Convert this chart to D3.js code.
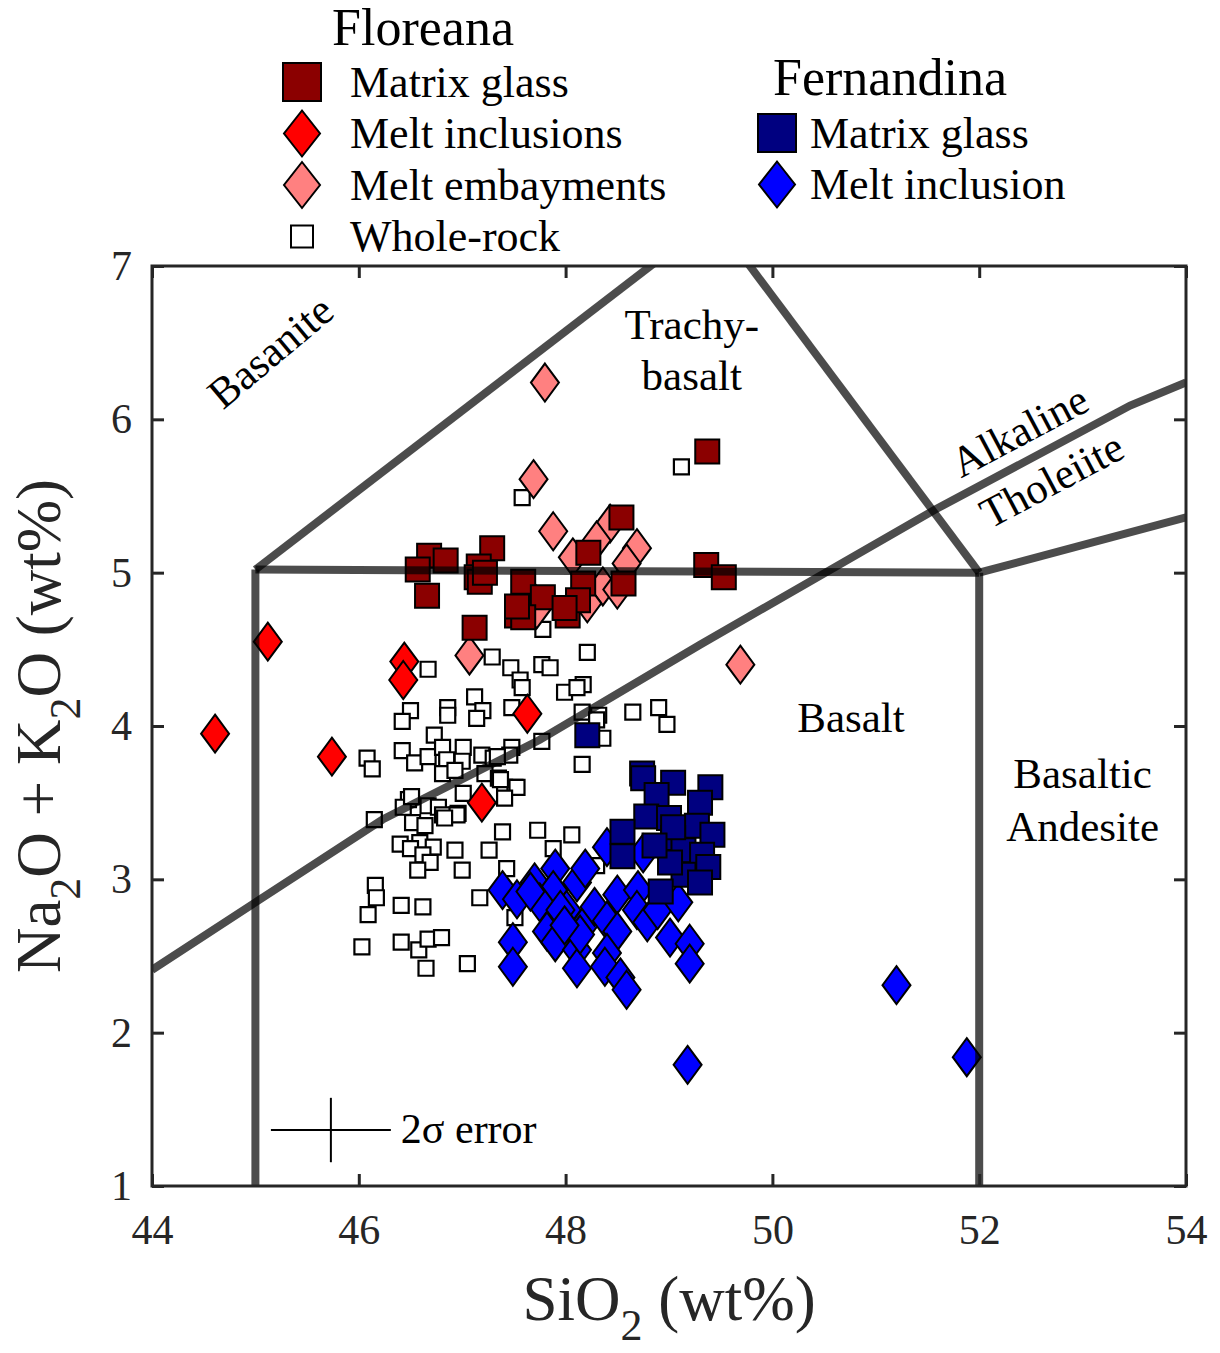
<!DOCTYPE html>
<html>
<head>
<meta charset="utf-8">
<script src="https://cdn.jsdelivr.net/npm/d3@7"></script>
<style>
  body { margin: 0; background: #fff; }
  text { font-family: "Liberation Serif", "Times New Roman", serif; }
</style>
</head>
<body>
<div id="vis"></div>
<script>
// values: [SiO2, Na2O+K2O] in wt%
const floreanaMatrix = [
    [46.68, 5.11], [46.84, 5.08], [47.29, 5.16], [46.57, 5.02], [46.66, 4.85],
    [47.16, 5.04], [47.14, 4.97], [47.17, 4.94], [47.22, 5.00], [47.59, 4.94],
    [47.78, 4.84], [47.53, 4.72], [47.59, 4.71], [47.12, 4.64], [47.53, 4.78],
    [48.02, 4.72], [48.22, 5.13], [48.17, 4.93], [48.54, 5.36], [48.56, 4.93],
    [49.37, 5.79], [49.36, 5.05], [49.53, 4.97], [48.12, 4.82], [47.99, 4.77]
];
const floreanaInclusions = [
    [44.61, 3.95], [45.12, 4.55], [45.74, 3.80], [46.44, 4.42], [46.43, 4.30],
    [47.63, 4.08], [47.19, 3.50]
];
const floreanaEmbayments = [
    [47.80, 6.24], [47.69, 5.61], [47.88, 5.27], [48.43, 5.32], [48.30, 5.21],
    [48.69, 5.16], [48.07, 5.10], [48.59, 5.06], [48.36, 4.91], [48.50, 4.89],
    [48.21, 4.80], [47.63, 4.87], [47.72, 4.76], [47.07, 4.46], [49.69, 4.40]
];
const wholeRock = [
    [47.58, 5.49], [49.12, 5.69], [47.78, 4.63], [48.21, 4.48], [47.29, 4.45],
    [46.67, 4.37], [47.47, 4.38], [47.56, 4.30], [47.58, 4.25], [47.77, 4.40],
    [47.85, 4.38], [47.99, 4.22], [48.17, 4.27], [48.11, 4.25], [47.12, 4.19],
    [47.20, 4.10], [47.14, 4.05], [46.86, 4.12], [46.86, 4.07], [46.50, 4.10],
    [46.42, 4.03], [47.48, 4.12], [46.08, 3.79], [46.13, 3.72], [46.42, 3.84],
    [46.54, 3.76], [46.67, 3.80], [46.73, 3.94], [46.81, 3.86], [46.85, 3.78],
    [47.01, 3.86], [47.00, 3.77], [46.81, 3.69], [46.93, 3.71], [47.19, 3.81],
    [47.30, 3.79], [47.22, 3.69], [47.35, 3.66], [47.41, 3.60], [47.51, 3.60],
    [47.48, 3.86], [47.46, 3.81], [47.01, 3.56], [46.48, 3.52], [46.43, 3.47],
    [46.67, 3.48], [46.77, 3.47], [46.96, 3.43], [46.15, 3.39], [46.51, 3.54],
    [46.81, 3.42], [46.52, 3.37], [46.64, 3.35], [46.40, 3.23], [46.59, 3.24],
    [46.72, 3.21], [46.50, 3.20], [46.62, 3.16], [46.69, 3.11], [46.57, 3.06],
    [46.93, 3.19], [47.26, 3.19], [47.00, 3.06], [47.17, 2.88], [46.16, 2.96],
    [46.17, 2.88], [46.09, 2.77], [46.41, 2.83], [46.62, 2.82], [46.03, 2.56],
    [46.41, 2.59], [46.58, 2.54], [46.67, 2.61], [46.80, 2.62], [46.65, 2.42],
    [47.05, 2.45], [47.43, 3.07], [47.51, 2.75], [47.39, 3.31], [47.73, 3.32],
    [48.16, 4.09], [48.32, 4.07], [48.30, 4.04], [48.65, 4.09], [48.90, 4.12],
    [48.98, 4.01], [47.77, 3.90], [48.36, 3.92], [48.16, 3.75], [47.34, 3.80],
    [47.37, 3.65], [47.53, 3.60], [47.41, 3.53], [46.95, 3.42], [46.83, 3.40],
    [48.06, 3.29], [47.88, 3.20], [48.30, 3.09]
];
const fernandinaMatrix = [
    [48.21, 3.94], [48.74, 3.69], [48.75, 3.66], [49.04, 3.63], [49.40, 3.60],
    [48.88, 3.55], [49.30, 3.50], [48.78, 3.41], [49.00, 3.40], [49.27, 3.35],
    [49.42, 3.29], [48.55, 3.31], [49.04, 3.27], [48.55, 3.15], [49.14, 3.19],
    [49.32, 3.16], [49.38, 3.08], [49.14, 3.03], [49.01, 3.11], [49.30, 2.98],
    [48.92, 2.92], [49.04, 3.34], [48.86, 3.22]
];
const fernandinaInclusions = [
    [51.20, 2.31], [51.88, 1.84], [49.18, 1.79], [47.39, 2.93], [47.53, 2.87],
    [47.49, 2.59], [47.49, 2.43], [47.70, 2.98], [47.90, 3.07], [47.88, 2.93],
    [47.75, 2.85], [47.82, 2.66], [47.90, 2.59], [48.01, 2.80], [48.11, 2.98],
    [48.19, 3.07], [48.21, 2.73], [48.11, 2.54], [48.11, 2.42], [48.28, 2.82],
    [48.40, 2.73], [48.50, 2.90], [48.50, 2.66], [48.40, 2.52], [48.38, 2.43],
    [48.53, 2.36], [48.59, 2.28], [48.70, 2.93], [48.69, 2.80], [48.79, 2.72],
    [48.89, 2.80], [49.01, 2.62], [49.09, 2.85], [49.20, 2.58], [49.20, 2.45],
    [48.40, 3.21], [48.75, 3.17], [47.95, 2.80], [47.66, 2.92], [48.14, 2.64],
    [47.99, 2.70]
];

// TAS field boundaries
const tasLines = [
    [[45, 1], [45, 5.02]],
    [[45, 5.02], [52, 5.0]],
    [[45, 5.02], [49.4, 7.3]],
    [[52, 5.0], [49.45, 7.3]],
    [[52, 1], [52, 5.0]],
    [[52, 5.0], [57, 5.9]]
];
const alkThLine = [[44, 2.41], [46.23, 3.39], [47.75, 3.91], [49.3, 4.53], [51.57, 5.41], [53.46, 6.09], [54, 6.24]];

const xTicks = [44, 46, 48, 50, 52, 54];
const yTicks = [1, 2, 3, 4, 5, 6, 7];

const fieldLabels = [
    {text: 'Basanite', x: 45.17, y: 6.42, rot: -40},
    {text: 'Trachy-', x: 49.22, y: 6.59, rot: 0},
    {text: 'basalt', x: 49.22, y: 6.26, rot: 0},
    {text: 'Alkaline', x: 52.41, y: 5.90, rot: -28},
    {text: 'Tholeiite', x: 52.72, y: 5.58, rot: -28},
    {text: 'Basalt', x: 50.76, y: 4.03, rot: 0},
    {text: 'Basaltic', x: 53.0, y: 3.66, rot: 0},
    {text: 'Andesite', x: 53.0, y: 3.32, rot: 0}
];

// 2 sigma error bar: centre, half widths
const errCentre = [45.73, 1.365];
const errHalf = [0.58, 0.21];

const colors = {
    floMatrix: '#8b0000',
    floIncl: '#ff0000',
    floEmb: '#ff8080',
    whole: '#ffffff',
    ferMatrix: '#000080',
    ferIncl: '#0000ff'
};

let dimensions = {
    width: 1220,
    height: 1353,
    margin: { top: 266, right: 34, bottom: 167, left: 152 }
};
dimensions.boundedWidth = dimensions.width - dimensions.margin.left - dimensions.margin.right;
dimensions.boundedHeight = dimensions.height - dimensions.margin.top - dimensions.margin.bottom;

const wrapper = d3.select('#vis')
    .append('svg')
    .attr('width', dimensions.width)
    .attr('height', dimensions.height);

const bounds = wrapper.append('g')
    .attr('transform', `translate(${dimensions.margin.left},${dimensions.margin.top})`);

const xScale = d3.scaleLinear().domain([44, 54]).range([0, dimensions.boundedWidth]);
const yScale = d3.scaleLinear().domain([1, 7]).range([dimensions.boundedHeight, 0]);

bounds.append('clipPath').attr('id', 'plotclip')
    .append('rect')
    .attr('width', dimensions.boundedWidth)
    .attr('height', dimensions.boundedHeight);

// marker shapes
const squarePath = s => `M${-s / 2},${-s / 2}h${s}v${s}h${-s}Z`;
const diamondPath = (w, h) => `M0,${-h / 2}L${w / 2},0L0,${h / 2}L${-w / 2},0Z`;

function drawMarkers(data, path, fill, strokeW) {
    bounds.append('g')
        .selectAll('path')
        .data(data)
        .join('path')
        .attr('transform', d => `translate(${xScale(d[0])},${yScale(d[1])})`)
        .attr('d', path)
        .attr('fill', fill)
        .attr('stroke', '#000')
        .attr('stroke-width', strokeW);
}

drawMarkers(wholeRock, squarePath(15), colors.whole, 2.2);
drawMarkers(fernandinaInclusions, diamondPath(28, 38), colors.ferIncl, 2);
drawMarkers(fernandinaMatrix, squarePath(24), colors.ferMatrix, 2);
drawMarkers(floreanaEmbayments, diamondPath(28, 38), colors.floEmb, 2);
drawMarkers(floreanaInclusions, diamondPath(28, 38), colors.floIncl, 2);
drawMarkers(floreanaMatrix, squarePath(24), colors.floMatrix, 2);

// field boundaries on top, semi transparent
const lineGen = d3.line().x(d => xScale(d[0])).y(d => yScale(d[1]));
const fieldGroup = bounds.append('g').attr('clip-path', 'url(#plotclip)');
fieldGroup.selectAll('path.tas')
    .data(tasLines.concat([alkThLine]))
    .join('path')
    .attr('class', 'tas')
    .attr('d', lineGen)
    .attr('fill', 'none')
    .attr('stroke', '#000')
    .attr('stroke-opacity', 0.7)
    .attr('stroke-width', 8)
    .attr('stroke-linejoin', 'miter');

// field names
bounds.append('g')
    .selectAll('text')
    .data(fieldLabels)
    .join('text')
    .attr('transform', d => `translate(${xScale(d.x)},${yScale(d.y)}) rotate(${d.rot})`)
    .attr('text-anchor', 'middle')
    .attr('dy', '0.24em')
    .attr('font-size', 43)
    .attr('fill', '#000')
    .text(d => d.text);

// 2 sigma error cross
const err = bounds.append('g').attr('stroke', '#000').attr('stroke-width', 2);
err.append('line')
    .attr('x1', xScale(errCentre[0] - errHalf[0])).attr('x2', xScale(errCentre[0] + errHalf[0]))
    .attr('y1', yScale(errCentre[1])).attr('y2', yScale(errCentre[1]));
err.append('line')
    .attr('x1', xScale(errCentre[0])).attr('x2', xScale(errCentre[0]))
    .attr('y1', yScale(errCentre[1] - errHalf[1])).attr('y2', yScale(errCentre[1] + errHalf[1]));
bounds.append('text')
    .attr('x', xScale(errCentre[0] + errHalf[0]) + 10)
    .attr('y', yScale(errCentre[1]))
    .attr('dy', '0.3em')
    .attr('font-size', 42)
    .text('2σ error');

// axes, ticks pointing inward
const axisColor = '#262626';
function styleAxis(g) {
    g.select('.domain').remove();
    g.selectAll('line').attr('stroke', axisColor).attr('stroke-width', 3);
    g.selectAll('text').attr('font-size', 42).attr('fill', axisColor)
        .attr('font-family', '"Liberation Serif", serif');
}
bounds.append('g')
    .attr('transform', `translate(0,${dimensions.boundedHeight})`)
    .call(d3.axisBottom(xScale).tickValues(xTicks).tickSizeInner(-12).tickSizeOuter(0).tickPadding(28))
    .call(styleAxis);
bounds.append('g')
    .call(d3.axisTop(xScale).tickValues(xTicks).tickSizeInner(-12).tickSizeOuter(0).tickFormat(''))
    .call(styleAxis);
bounds.append('g')
    .call(d3.axisLeft(yScale).tickValues(yTicks).tickFormat(d3.format('d'))
        .tickSizeInner(-12).tickSizeOuter(0).tickPadding(20))
    .call(styleAxis);
bounds.append('g')
    .attr('transform', `translate(${dimensions.boundedWidth},0)`)
    .call(d3.axisRight(yScale).tickValues(yTicks).tickSizeInner(-12).tickSizeOuter(0).tickFormat(''))
    .call(styleAxis);

bounds.append('rect')
    .attr('width', dimensions.boundedWidth)
    .attr('height', dimensions.boundedHeight)
    .attr('fill', 'none')
    .attr('stroke', axisColor)
    .attr('stroke-width', 3);

// axis labels
const xLabel = wrapper.append('text')
    .attr('x', dimensions.margin.left + dimensions.boundedWidth / 2)
    .attr('y', 1320)
    .attr('text-anchor', 'middle')
    .attr('font-size', 63)
    .attr('fill', axisColor);
xLabel.append('tspan').text('SiO');
xLabel.append('tspan').attr('font-size', 44).attr('dy', 20).text('2');
xLabel.append('tspan').attr('dy', -20).text(' (wt%)');

const yLabel = wrapper.append('text')
    .attr('transform', `translate(60,${dimensions.margin.top + dimensions.boundedHeight / 2}) rotate(-90)`)
    .attr('text-anchor', 'middle')
    .attr('font-size', 63)
    .attr('fill', axisColor);
yLabel.append('tspan').text('Na');
yLabel.append('tspan').attr('font-size', 44).attr('dy', 20).text('2');
yLabel.append('tspan').attr('dy', -20).text('O + K');
yLabel.append('tspan').attr('font-size', 44).attr('dy', 20).text('2');
yLabel.append('tspan').attr('dy', -20).text('O (wt%)');

// legend
const floreanaLegend = [
    {label: 'Matrix glass', shape: squarePath(38), fill: colors.floMatrix},
    {label: 'Melt inclusions', shape: diamondPath(36, 46), fill: colors.floIncl},
    {label: 'Melt embayments', shape: diamondPath(36, 46), fill: colors.floEmb},
    {label: 'Whole-rock', shape: squarePath(22), fill: colors.whole}
];
const fernandinaLegend = [
    {label: 'Matrix glass', shape: squarePath(38), fill: colors.ferMatrix},
    {label: 'Melt inclusion', shape: diamondPath(36, 46), fill: colors.ferIncl}
];

const legend = wrapper.append('g');
legend.append('text').attr('x', 423).attr('y', 45).attr('text-anchor', 'middle')
    .attr('font-size', 52).text('Floreana');
legend.append('text').attr('x', 890).attr('y', 95).attr('text-anchor', 'middle')
    .attr('font-size', 52).text('Fernandina');

function drawLegend(items, markerX, textX, firstY) {
    const rows = legend.append('g')
        .selectAll('g')
        .data(items)
        .join('g')
        .attr('transform', (d, i) => `translate(0,${firstY + i * 51.5})`);
    rows.append('path')
        .attr('transform', `translate(${markerX},0)`)
        .attr('d', d => d.shape)
        .attr('fill', d => d.fill)
        .attr('stroke', '#000')
        .attr('stroke-width', 2);
    rows.append('text')
        .attr('x', textX)
        .attr('dy', '0.33em')
        .attr('font-size', 44)
        .text(d => d.label);
}
drawLegend(floreanaLegend, 302, 350, 82);
drawLegend(fernandinaLegend, 777, 810, 133);
</script>
</body>
</html>
